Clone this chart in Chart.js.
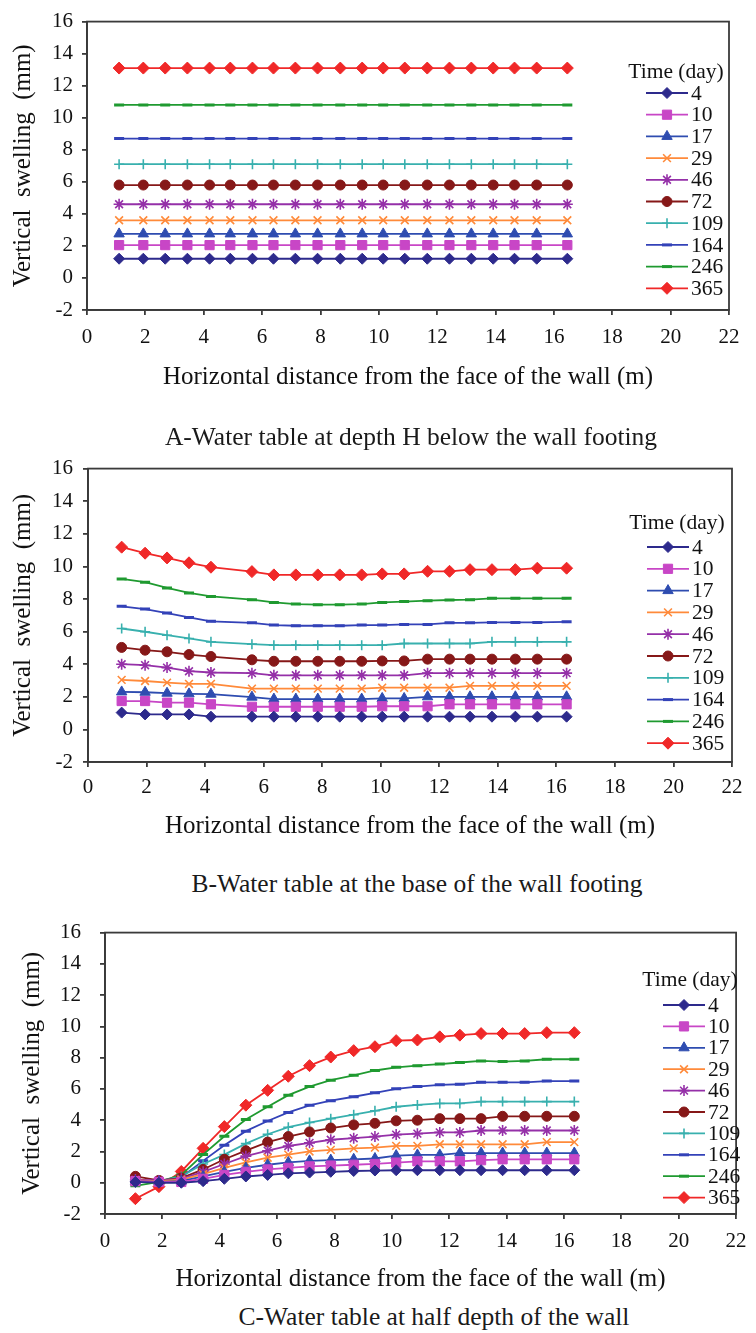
<!DOCTYPE html>
<html>
<head>
<meta charset="utf-8">
<script src="https://cdn.jsdelivr.net/npm/chart.js@4/dist/chart.umd.min.js"></script>
<style>
  html, body { margin: 0; padding: 0; background: #fff; }
  #page { position: relative; width: 756px; height: 1333px; overflow: hidden; background: #fff; }
  canvas { position: absolute; left: 0; }
  .caption {
    position: absolute; white-space: nowrap; transform: translate(-50%, -50%);
    font-family: "Liberation Serif", "Times New Roman", serif; font-size: 25.5px; color: #1a1a1a;
    z-index: 2;
  }
</style>
</head>
<body>
<div id="page">
  <canvas id="chartA"></canvas>
  <div class="caption" style="left:411px; top:437px;">A-Water table at depth H below the wall footing</div>
  <canvas id="chartB"></canvas>
  <div class="caption" style="left:417px; top:884px;">B-Water table at the base of the wall footing</div>
  <canvas id="chartC"></canvas>
  <div class="caption" style="left:434px; top:1317px;">C-Water table at half depth of the wall</div>
</div>
<script>
// ---- legend entries (time in days) ----
const dayLabels = ['4', '10', '17', '29', '46', '72', '109', '164', '246', '365'];

// ---- axis ticks ----
const xTickValues = [0, 2, 4, 6, 8, 10, 12, 14, 16, 18, 20, 22];
const yTickValues = [-2, 0, 2, 4, 6, 8, 10, 12, 14, 16];

// ---- A: water table at depth H below the wall footing ----
const distA = [1.1, 1.93, 2.68, 3.44, 4.2, 4.91, 5.67, 6.39, 7.14, 7.9, 8.68, 9.43, 10.15, 10.89, 11.66, 12.42, 13.17, 13.92, 14.65, 15.41, 16.46];
const swellA_d4   = [1.2, 1.2, 1.2, 1.2, 1.2, 1.2, 1.2, 1.2, 1.2, 1.2, 1.2, 1.2, 1.2, 1.2, 1.2, 1.2, 1.2, 1.2, 1.2, 1.2, 1.2];
const swellA_d10  = [2.05, 2.05, 2.05, 2.05, 2.05, 2.05, 2.05, 2.05, 2.05, 2.05, 2.05, 2.05, 2.05, 2.05, 2.05, 2.05, 2.05, 2.05, 2.05, 2.05, 2.05];
const swellA_d17  = [2.75, 2.75, 2.75, 2.75, 2.75, 2.75, 2.75, 2.75, 2.75, 2.75, 2.75, 2.75, 2.75, 2.75, 2.75, 2.75, 2.75, 2.75, 2.75, 2.75, 2.75];
const swellA_d29  = [3.6, 3.6, 3.6, 3.6, 3.6, 3.6, 3.6, 3.6, 3.6, 3.6, 3.6, 3.6, 3.6, 3.6, 3.6, 3.6, 3.6, 3.6, 3.6, 3.6, 3.6];
const swellA_d46  = [4.6, 4.6, 4.6, 4.6, 4.6, 4.6, 4.6, 4.6, 4.6, 4.6, 4.6, 4.6, 4.6, 4.6, 4.6, 4.6, 4.6, 4.6, 4.6, 4.6, 4.6];
const swellA_d72  = [5.8, 5.8, 5.8, 5.8, 5.8, 5.8, 5.8, 5.8, 5.8, 5.8, 5.8, 5.8, 5.8, 5.8, 5.8, 5.8, 5.8, 5.8, 5.8, 5.8, 5.8];
const swellA_d109 = [7.1, 7.1, 7.1, 7.1, 7.1, 7.1, 7.1, 7.1, 7.1, 7.1, 7.1, 7.1, 7.1, 7.1, 7.1, 7.1, 7.1, 7.1, 7.1, 7.1, 7.1];
const swellA_d164 = [8.7, 8.7, 8.7, 8.7, 8.7, 8.7, 8.7, 8.7, 8.7, 8.7, 8.7, 8.7, 8.7, 8.7, 8.7, 8.7, 8.7, 8.7, 8.7, 8.7, 8.7];
const swellA_d246 = [10.8, 10.8, 10.8, 10.8, 10.8, 10.8, 10.8, 10.8, 10.8, 10.8, 10.8, 10.8, 10.8, 10.8, 10.8, 10.8, 10.8, 10.8, 10.8, 10.8, 10.8];
const swellA_d365 = [13.1, 13.1, 13.1, 13.1, 13.1, 13.1, 13.1, 13.1, 13.1, 13.1, 13.1, 13.1, 13.1, 13.1, 13.1, 13.1, 13.1, 13.1, 13.1, 13.1, 13.1];

// ---- B: water table at the base of the wall footing ----
const distB = [1.15, 1.95, 2.7, 3.45, 4.2, 5.6, 6.35, 7.1, 7.85, 8.6, 9.35, 10.05, 10.8, 11.6, 12.35, 13.05, 13.8, 14.6, 15.35, 16.35];
const swellB_d4   = [1.03, 0.92, 0.92, 0.92, 0.78, 0.78, 0.78, 0.78, 0.78, 0.78, 0.78, 0.78, 0.78, 0.78, 0.78, 0.78, 0.78, 0.78, 0.78, 0.78];
const swellB_d10  = [1.74, 1.74, 1.64, 1.64, 1.54, 1.39, 1.39, 1.39, 1.39, 1.39, 1.39, 1.42, 1.42, 1.42, 1.54, 1.54, 1.54, 1.54, 1.54, 1.54];
const swellB_d17  = [2.3, 2.28, 2.22, 2.18, 2.16, 1.98, 1.86, 1.86, 1.86, 1.86, 1.86, 1.9, 1.9, 2.0, 2.0, 2.0, 2.0, 2.0, 2.0, 2.0];
const swellB_d29  = [3.04, 2.97, 2.87, 2.79, 2.79, 2.5, 2.5, 2.5, 2.5, 2.5, 2.5, 2.56, 2.56, 2.56, 2.56, 2.67, 2.67, 2.67, 2.67, 2.67];
const swellB_d46  = [4.0, 3.94, 3.79, 3.57, 3.49, 3.45, 3.32, 3.32, 3.32, 3.32, 3.32, 3.32, 3.32, 3.45, 3.45, 3.45, 3.45, 3.45, 3.45, 3.45];
const swellB_d72  = [5.03, 4.86, 4.76, 4.59, 4.47, 4.27, 4.18, 4.18, 4.18, 4.18, 4.18, 4.2, 4.2, 4.31, 4.31, 4.31, 4.31, 4.31, 4.31, 4.31];
const swellB_d109 = [6.19, 5.99, 5.78, 5.58, 5.37, 5.23, 5.17, 5.17, 5.17, 5.17, 5.17, 5.17, 5.27, 5.27, 5.27, 5.27, 5.37, 5.37, 5.37, 5.37];
const swellB_d164 = [7.55, 7.38, 7.14, 6.87, 6.63, 6.54, 6.4, 6.36, 6.36, 6.36, 6.4, 6.4, 6.44, 6.44, 6.54, 6.54, 6.56, 6.56, 6.56, 6.6];
const swellB_d246 = [9.23, 9.03, 8.68, 8.37, 8.16, 7.96, 7.79, 7.69, 7.65, 7.65, 7.69, 7.79, 7.84, 7.9, 7.94, 7.96, 8.04, 8.04, 8.04, 8.04];
const swellB_d365 = [11.18, 10.81, 10.52, 10.22, 9.95, 9.68, 9.48, 9.48, 9.48, 9.48, 9.48, 9.54, 9.54, 9.7, 9.7, 9.8, 9.8, 9.8, 9.89, 9.89];

// ---- C: water table at half depth of the wall ----
const distC = [1.06, 1.88, 2.66, 3.42, 4.16, 4.91, 5.67, 6.39, 7.13, 7.87, 8.67, 9.41, 10.15, 10.89, 11.67, 12.37, 13.11, 13.86, 14.63, 15.4, 16.36];
const swellC_d4   = [0.05, 0.0, 0.0, 0.1, 0.25, 0.4, 0.5, 0.6, 0.65, 0.7, 0.75, 0.78, 0.8, 0.8, 0.8, 0.8, 0.8, 0.8, 0.8, 0.8, 0.8];
const swellC_d10  = [0.1, 0.05, 0.05, 0.25, 0.5, 0.7, 0.85, 0.95, 1.05, 1.1, 1.15, 1.2, 1.29, 1.37, 1.37, 1.37, 1.44, 1.5, 1.5, 1.5, 1.5];
const swellC_d17  = [0.1, 0.05, 0.1, 0.4, 0.7, 0.95, 1.15, 1.3, 1.4, 1.45, 1.5, 1.55, 1.74, 1.78, 1.78, 1.9, 1.9, 1.9, 1.9, 1.9, 1.9];
const swellC_d29  = [0.15, 0.1, 0.2, 0.55, 0.95, 1.3, 1.6, 1.8, 2.0, 2.1, 2.2, 2.25, 2.36, 2.36, 2.46, 2.46, 2.46, 2.46, 2.46, 2.6, 2.6];
const swellC_d46  = [0.2, 0.15, 0.25, 0.7, 1.2, 1.7, 2.05, 2.35, 2.55, 2.75, 2.85, 2.95, 3.08, 3.14, 3.22, 3.22, 3.34, 3.34, 3.34, 3.34, 3.34];
const swellC_d72  = [0.41, 0.15, 0.3, 0.85, 1.5, 2.05, 2.6, 2.95, 3.25, 3.5, 3.7, 3.8, 3.96, 4.0, 4.1, 4.1, 4.1, 4.25, 4.25, 4.25, 4.25];
const swellC_d109 = [0.1, 0.1, 0.4, 1.2, 1.8, 2.5, 3.1, 3.55, 3.85, 4.1, 4.35, 4.6, 4.86, 4.98, 5.07, 5.07, 5.19, 5.19, 5.19, 5.19, 5.19];
const swellC_d164 = [0.05, 0.1, 0.35, 1.4, 2.4, 3.3, 3.95, 4.5, 4.95, 5.25, 5.5, 5.75, 6.01, 6.15, 6.26, 6.3, 6.42, 6.42, 6.42, 6.5, 6.5];
const swellC_d246 = [-0.2, 0.05, 0.5, 1.8, 2.97, 4.05, 4.86, 5.6, 6.15, 6.56, 6.87, 7.18, 7.38, 7.49, 7.59, 7.69, 7.79, 7.75, 7.79, 7.9, 7.9];
const swellC_d365 = [-1.02, -0.25, 0.72, 2.2, 3.59, 4.96, 5.91, 6.81, 7.49, 8.04, 8.45, 8.7, 9.09, 9.13, 9.33, 9.44, 9.54, 9.54, 9.54, 9.6, 9.6];

// ---- series appearance (one entry per legend item) ----
const seriesColors  = ['#2d2a8c', '#c846c6', '#2e4cb0', '#ff8a3a', '#9530a8', '#861818', '#38b0ae', '#3342b8', '#1f9a30', '#f02828'];
const seriesMarkers = ['rectRot', 'rect', 'triangle', 'crossRot', 'star', 'circle', 'cross', 'line', 'line', 'rectRot'];
const markerRadius  = [5.5, 6.5, 6, 5.5, 5.5, 5, 5, 5, 5, 6];
const markerStroke  = [1, 1, 1, 1.6, 1.6, 1, 1.6, 3, 3, 1];

const FONT = '"Liberation Serif", "Times New Roman", serif';
const INK = '#111';
const FRAME = '#3a3a3a';
const TICK_SIZE = 21;

Chart.defaults.font.family = FONT;
Chart.defaults.font.size = TICK_SIZE;
Chart.defaults.color = INK;

// Draws the plot frame (top and right sides complete the axes' box).
const framePlugin = {
  id: 'frame',
  beforeDatasetsDraw(chart) {
    const { ctx, chartArea: a } = chart;
    ctx.save();
    ctx.strokeStyle = FRAME;
    ctx.lineWidth = 1.8;
    ctx.strokeRect(a.left, a.top, a.right - a.left, a.bottom - a.top);
    ctx.restore();
  }
};

// Legend drawn inside the plot area: a short line with its marker, then the label.
const insideLegendPlugin = {
  id: 'insideLegend',
  afterDraw(chart, args, opts) {
    const { ctx } = chart;
    ctx.save();
    ctx.font = `${opts.fontSize}px ${FONT}`;
    ctx.fillStyle = INK;
    ctx.textBaseline = 'middle';
    ctx.textAlign = 'center';
    ctx.fillText('Time (day)', opts.titleX, opts.titleY);
    chart.data.datasets.forEach((ds, i) => {
      const y = opts.firstY + i * opts.step;
      ctx.strokeStyle = ds.borderColor;
      ctx.lineWidth = 1.8;
      ctx.beginPath();
      ctx.moveTo(opts.x1, y);
      ctx.lineTo(opts.x2, y);
      ctx.stroke();
      ctx.fillStyle = ds.pointBackgroundColor;
      ctx.strokeStyle = ds.pointBorderColor;
      ctx.lineWidth = ds.pointBorderWidth;
      Chart.helpers.drawPoint(ctx, {
        pointStyle: ds.pointStyle, radius: ds.pointRadius, borderWidth: ds.pointBorderWidth, rotation: 0
      }, (opts.x1 + opts.x2) / 2, y);
      ctx.fillStyle = INK;
      ctx.textAlign = 'left';
      ctx.fillText(ds.label, opts.textX, y + 1);
    });
    ctx.restore();
  }
};

function makeDatasets(xs, seriesList) {
  return seriesList.map((vals, i) => ({
    label: dayLabels[i],
    data: xs.map((x, k) => ({ x: x, y: vals[k] })),
    showLine: true,
    borderColor: seriesColors[i],
    backgroundColor: seriesColors[i],
    borderWidth: 1.8,
    pointStyle: seriesMarkers[i],
    pointRadius: markerRadius[i],
    pointBorderWidth: markerStroke[i],
    pointBackgroundColor: seriesColors[i],
    pointBorderColor: seriesColors[i],
    tension: 0
  }));
}

function makeChart(id, g, xs, seriesList) {
  const W = 756;
  const canvas = document.getElementById(id);
  canvas.width = W;
  canvas.height = g.height;
  canvas.style.width = W + 'px';
  canvas.style.height = g.height + 'px';
  canvas.style.top = g.top + 'px';

  const XT = 25, YT = 25;
  const tickFont = { family: FONT, size: TICK_SIZE, lineHeight: 1.2 };
  const xTitleFont = { family: FONT, size: XT, lineHeight: 1.2 };
  const yTitleFont = { family: FONT, size: YT, lineHeight: 1.2 };
  const plotBottom = g.plotB - g.top;
  const xAxisH = g.height - plotBottom;

  return new Chart(canvas, {
    type: 'scatter',
    data: { datasets: makeDatasets(xs, seriesList) },
    plugins: [framePlugin, insideLegendPlugin],
    options: {
      responsive: false,
      animation: false,
      devicePixelRatio: 1,
      layout: { padding: { top: g.plotT - g.top, right: W - g.plotR, bottom: 0, left: 0 } },
      plugins: {
        legend: { display: false },
        tooltip: { enabled: false },
        insideLegend: {
          fontSize: 21.5,
          titleX: g.legTitleX, titleY: g.legTitleY - g.top,
          firstY: g.legFirstY - g.top, step: g.legStep,
          x1: g.legX1, x2: g.legX2, textX: g.legX2 + 3
        }
      },
      scales: {
        x: {
          type: 'linear', min: 0, max: 22,
          afterFit(s) { s.height = xAxisH; },
          afterBuildTicks(s) { s.ticks = xTickValues.map(v => ({ value: v })); },
          ticks: { font: tickFont, color: INK, padding: g.xTickY - g.plotB - 5 - TICK_SIZE * 0.6, maxRotation: 0, autoSkip: false },
          grid: { drawOnChartArea: false, drawTicks: true, tickLength: 5, color: FRAME, lineWidth: 1.8 },
          border: { color: FRAME, width: 1.8 },
          title: {
            display: true, text: 'Horizontal distance from the face of the wall (m)',
            font: xTitleFont, color: INK,
            padding: { top: 0, bottom: (g.height - (g.xTitleY - g.top)) - XT * 0.6 }
          }
        },
        y: {
          type: 'linear', min: -2, max: 16,
          afterFit(s) { s.width = g.plotL; },
          afterBuildTicks(s) { s.ticks = yTickValues.map(v => ({ value: v })); },
          ticks: { font: tickFont, color: INK, padding: g.yTickPad, autoSkip: false },
          grid: { drawOnChartArea: false, drawTicks: true, tickLength: 5, color: FRAME, lineWidth: 1.8 },
          border: { color: FRAME, width: 1.8 },
          title: {
            display: true, text: 'Vertical  swelling  (mm)',
            font: yTitleFont, color: INK,
            padding: { top: g.yTitleX - YT * 0.6, bottom: 0 }
          }
        }
      }
    }
  });
}

makeChart('chartA', {
  top: 0, height: 400, plotT: 20, plotB: 310, plotL: 87, plotR: 729,
  xTickY: 337, xTitleY: 377, yTitleX: 23, yTickPad: 9,
  legTitleX: 676, legTitleY: 72, legFirstY: 93, legStep: 21.7, legX1: 646, legX2: 688
}, distA, [swellA_d4, swellA_d10, swellA_d17, swellA_d29, swellA_d46, swellA_d72, swellA_d109, swellA_d164, swellA_d246, swellA_d365]);

makeChart('chartB', {
  top: 446, height: 400, plotT: 466, plotB: 762, plotL: 88, plotR: 732,
  xTickY: 787, xTitleY: 826, yTitleX: 23, yTickPad: 10,
  legTitleX: 677, legTitleY: 523, legFirstY: 547, legStep: 21.8, legX1: 647, legX2: 689
}, distB, [swellB_d4, swellB_d10, swellB_d17, swellB_d29, swellB_d46, swellB_d72, swellB_d109, swellB_d164, swellB_d246, swellB_d365]);

makeChart('chartC', {
  top: 901, height: 400, plotT: 921, plotB: 1214, plotL: 105, plotR: 748,
  xTickY: 1241, xTitleY: 1279, yTitleX: 32, yTickPad: 19,
  legTitleX: 690, legTitleY: 980, legFirstY: 1005, legStep: 21.4, legX1: 663, legX2: 705
}, distC, [swellC_d4, swellC_d10, swellC_d17, swellC_d29, swellC_d46, swellC_d72, swellC_d109, swellC_d164, swellC_d246, swellC_d365]);
</script>
</body>
</html>
